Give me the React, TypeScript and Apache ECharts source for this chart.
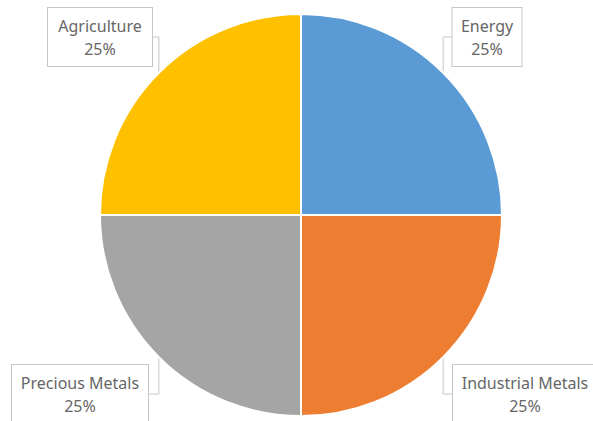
import React, { useEffect, useRef } from "react";
import * as echarts from "echarts";

const categories = ["Energy", "Industrial Metals", "Precious Metals", "Agriculture"];
const values = [25, 25, 25, 25];
const colors = ["#5B9BD5", "#ED7D31", "#A5A5A5", "#FFC000"];
const labelCenters: [number, number][] = [
  [487, 37],
  [525, 394],
  [80, 394],
  [100, 37],
];
const labelWidths = [57, 132, 124, 92];

export default function App() {
  const ref = useRef<HTMLDivElement>(null);
  useEffect(() => {
    const chart = echarts.init(ref.current!, undefined, { renderer: "svg" });
    chart.setOption({
      animation: false,
      backgroundColor: "#ffffff",
      series: [
        {
          type: "pie",
          center: [301, 215],
          radius: 201,
          startAngle: 90,
          clockwise: true,
          itemStyle: { borderColor: "#ffffff", borderWidth: 2 },
          data: categories.map((c, i) => ({
            name: c,
            value: values[i],
            itemStyle: { color: colors[i] },
            label: { width: labelWidths[i] },
          })),
          label: {
            show: true,
            formatter: "{b}\n{d}%",
            fontFamily: "Noto Sans",
            fontSize: 16,
            lineHeight: 23,
            color: "#666666",
            align: "center",
            overflow: "none",
            backgroundColor: "#ffffff",
            borderColor: "#c6c6c6",
            borderWidth: 1,
            padding: [6, 6, 6, 6],
          },
          labelLine: {
            show: true,
            length: 10,
            length2: 10,
            lineStyle: { color: "#c6c6c6", width: 1 },
          },
          labelLayout: (params: any) => ({
            x: labelCenters[params.dataIndex][0],
            y: labelCenters[params.dataIndex][1],
            align: "center",
            verticalAlign: "middle",
          }),
        },
      ],
    });
    return () => chart.dispose();
  }, []);
  return (
    <div
      ref={ref}
      style={{ position: "fixed", left: 0, top: 0, width: 593, height: 421 }}
    />
  );
}
